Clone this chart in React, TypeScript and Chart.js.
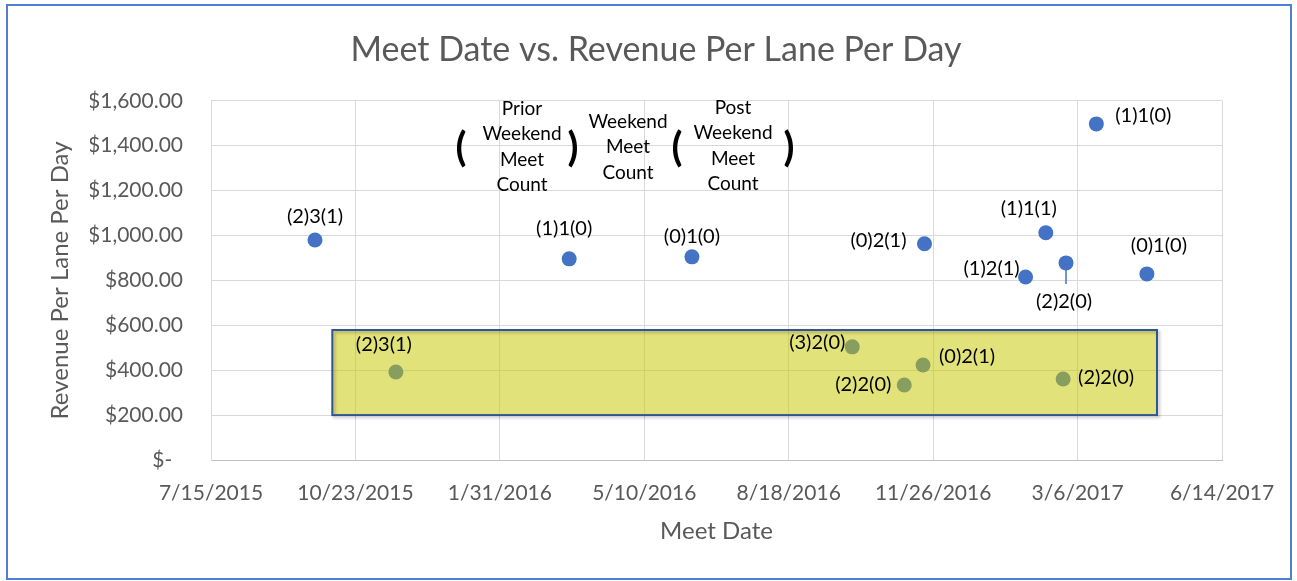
import React, { useEffect, useRef } from "react";
import { Chart, registerables } from "chart.js";

Chart.register(...registerables);

// ---- data ----
const meetDates = [
  "2015-09-25", "2016-03-19", "2016-06-12", "2016-11-20", "2017-01-29",
  "2017-02-12", "2017-02-26", "2017-03-19", "2017-04-23",
  "2015-11-20", "2016-10-01", "2016-11-19", "2016-11-06", "2017-02-24",
];
const revenuePerLane = [
  980, 896, 905, 963, 815,
  1012, 878, 1497, 829,
  392, 504, 423, 334, 361,
];
const pointLabels = [
  "(2)3(1)", "(1)1(0)", "(0)1(0)", "(0)2(1)", "(1)2(1)",
  "(1)1(1)", "(2)2(0)", "(1)1(0)", "(0)1(0)",
  "(2)3(1)", "(3)2(0)", "(0)2(1)", "(2)2(0)", "(2)2(0)",
];
const xTickDates = [
  "2015-07-15", "2015-10-23", "2016-01-31", "2016-05-10",
  "2016-08-18", "2016-11-26", "2017-03-06", "2017-06-14",
];
const yTicks = [0, 200, 400, 600, 800, 1000, 1200, 1400, 1600];

// highlighted region (data units)
const highlightFrom = "2015-10-07";
const highlightTo = "2017-04-30";
const highlightLow = 200;
const highlightHigh = 579;

// ---- label placement (pixel offsets from point centre) ----
const labelOffsets: [number, number, boolean][] = [
  [0, -23, false], [-5, -30, false], [0, -20, false], [-46, -3, false], [-34, -8, false],
  [-17, -24, false], [-2, 39, true], [47, -8, false], [12, -28, false],
  [-12, -27, false], [-35, -4, false], [44, -8, false], [-41, 0, false], [43, -1, false],
];

const FONT = "Lato";

function toDay(s: string): number {
  const [y, m, d] = s.split("-").map(Number);
  return Date.UTC(y, m - 1, d) / 86400000;
}
function dayLabel(v: number): string {
  const dt = new Date(v * 86400000);
  return `${dt.getUTCMonth() + 1}/${dt.getUTCDate()}/${dt.getUTCFullYear()}`;
}
function money(v: number): string {
  if (v === 0) return "$-  ";
  return "$" + v.toLocaleString("en-US", { minimumFractionDigits: 2, maximumFractionDigits: 2 });
}

const overlayPlugin = {
  id: "overlay",
  beforeDraw(chart: any) {
    const ctx = chart.ctx;
    ctx.save();
    ctx.fillStyle = "#ffffff";
    ctx.fillRect(0, 0, chart.width, chart.height);
    ctx.strokeStyle = "#4F7FD0";
    ctx.lineWidth = 2;
    ctx.strokeRect(7, 5, 1284, 574);
    ctx.restore();
  },
  afterDatasetsDraw(chart: any) {
    const ctx = chart.ctx;
    const xs = chart.scales.x;
    const ys = chart.scales.y;
    ctx.save();
    // highlight box
    const x1 = xs.getPixelForValue(toDay(highlightFrom));
    const x2 = xs.getPixelForValue(toDay(highlightTo));
    const y1 = ys.getPixelForValue(highlightHigh);
    const y2 = ys.getPixelForValue(highlightLow);
    ctx.fillStyle = "rgba(200,200,0,0.52)";
    ctx.fillRect(x1, y1, x2 - x1, y2 - y1);
    ctx.shadowColor = "rgba(0,0,0,0.25)";
    ctx.shadowBlur = 3;
    ctx.shadowOffsetX = 2;
    ctx.shadowOffsetY = 2;
    ctx.strokeStyle = "#2F5597";
    ctx.lineWidth = 2;
    ctx.strokeRect(x1, y1, x2 - x1, y2 - y1);
    ctx.shadowColor = "transparent";

    // point labels
    const meta = chart.getDatasetMeta(0);
    ctx.font = `20px ${FONT}`;
    ctx.fillStyle = "#000000";
    ctx.textAlign = "center";
    ctx.textBaseline = "middle";
    meta.data.forEach((pt: any, i: number) => {
      const [dx, dy, leader] = labelOffsets[i];
      if (leader) {
        ctx.strokeStyle = "#4472C4";
        ctx.lineWidth = 1.5;
        ctx.beginPath();
        ctx.moveTo(pt.x, pt.y + 7);
        ctx.lineTo(pt.x, pt.y + 21);
        ctx.stroke();
      }
      ctx.fillText(pointLabels[i], pt.x + dx, pt.y + dy);
    });

    // legend-like annotation
    const left = chart.chartArea.left;
    const top = chart.chartArea.top;
    ctx.font = `19px ${FONT}`;
    const lh = 25.5;
    const block = (lines: string[], cx: number, cy: number) => {
      lines.forEach((t, k) => ctx.fillText(t, cx, cy + k * lh));
    };
    block(["Prior", "Weekend", "Meet", "Count"], left + 311, top + 8);
    block(["Weekend", "Meet", "Count"], left + 417, top + 21);
    block(["Post", "Weekend", "Meet", "Count"], left + 522, top + 7);
    ctx.font = `bold 40px ${FONT}`;
    ctx.fillText("(", left + 250, top + 47);
    ctx.fillText(")", left + 362, top + 47);
    ctx.fillText("(", left + 466, top + 47);
    ctx.fillText(")", left + 578, top + 47);
    ctx.restore();
  },
};

export default function App() {
  const ref = useRef<HTMLCanvasElement | null>(null);
  useEffect(() => {
    if (!ref.current) return;
    const chart = new Chart(ref.current, {
      type: "scatter",
      data: {
        datasets: [
          {
            data: meetDates.map((d, i) => ({ x: toDay(d), y: revenuePerLane[i] })),
            backgroundColor: "#4472C4",
            borderWidth: 0,
            pointRadius: 7.5,
            pointHoverRadius: 7.5,
          },
        ],
      },
      options: {
        animation: false,
        responsive: false,
        layout: { padding: { left: 90, right: 75, top: 0, bottom: 0 } },
        plugins: {
          legend: { display: false },
          tooltip: { enabled: false },
          title: {
            display: true,
            text: "Meet Date vs. Revenue Per Lane Per Day",
            color: "#595959",
            font: { family: FONT, size: 34, weight: "normal" },
            padding: { top: 30, bottom: 30 },
          },
        },
        scales: {
          x: {
            type: "linear",
            min: toDay(xTickDates[0]),
            max: toDay(xTickDates[xTickDates.length - 1]),
            afterBuildTicks(scale: any) {
              scale.ticks = xTickDates.map((d) => ({ value: toDay(d) }));
            },
            afterFit(scale: any) {
              scale.height = 121;
            },
            ticks: {
              autoSkip: false,
              maxRotation: 0,
              color: "#595959",
              font: { family: FONT, size: 21 },
              padding: 21,
              callback: (v: any) => dayLabel(Number(v)),
            },
            grid: { color: "#D9D9D9", lineWidth: 1, drawTicks: false },
            border: { color: "#BFBFBF", width: 1 },
            title: {
              display: true,
              text: "Meet Date",
              color: "#595959",
              font: { family: FONT, size: 24 },
              padding: { top: 0, bottom: 35 },
            },
          },
          y: {
            min: 0,
            max: 1600,
            afterBuildTicks(scale: any) {
              scale.ticks = yTicks.map((v) => ({ value: v }));
            },
            afterFit(scale: any) {
              scale.width = 121;
            },
            ticks: {
              color: "#595959",
              font: { family: FONT, size: 21 },
              padding: 28,
              callback: (v: any) => money(Number(v)),
            },
            grid: { color: "#D9D9D9", lineWidth: 1, drawTicks: false },
            border: { color: "#D9D9D9", width: 1 },
            title: {
              display: true,
              text: "Revenue Per Lane Per Day",
              color: "#595959",
              font: { family: FONT, size: 24 },
              padding: { top: -44, bottom: 0 },
            },
          },
        },
      },
      plugins: [overlayPlugin],
    } as any);
    return () => chart.destroy();
  }, []);
  return (
    <div style={{ position: "fixed", left: 0, top: 0, width: 1297, height: 581, background: "#fff" }}>
      <canvas ref={ref} width={1297} height={581} style={{ width: 1297, height: 581, display: "block" }} />
    </div>
  );
}
